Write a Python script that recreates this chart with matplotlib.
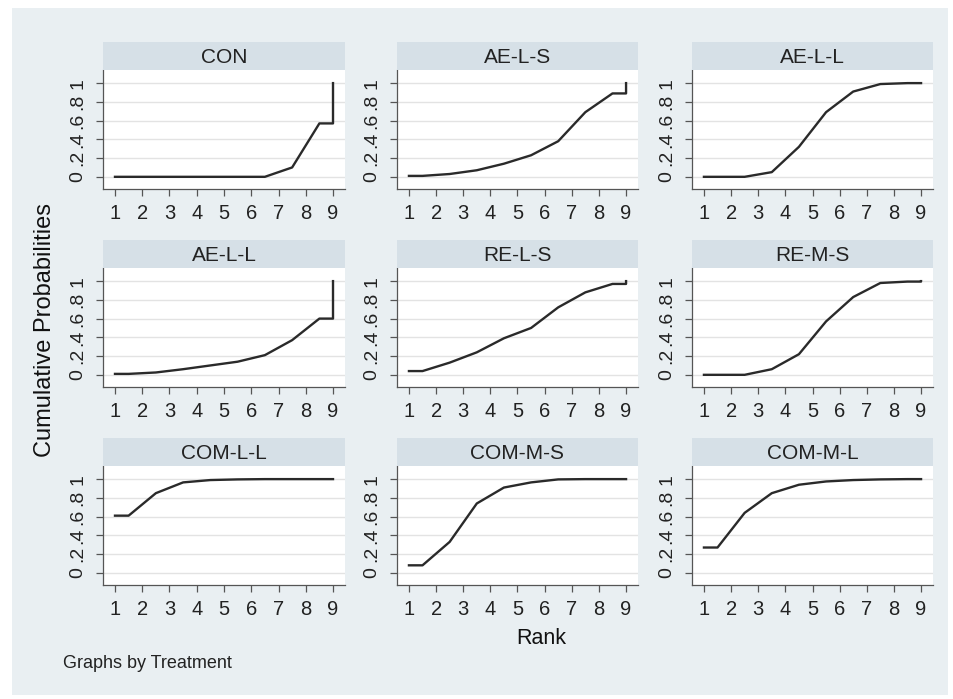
import numpy as np
import matplotlib
matplotlib.use("Agg")
import matplotlib.pyplot as plt
from matplotlib.patches import Rectangle

plt.rcParams['font.family'] = ['Liberation Sans', 'DejaVu Sans']

treatments = ["CON", "AE-L-S", "AE-L-L",
              "AE-L-L", "RE-L-S", "RE-M-S",
              "COM-L-L", "COM-M-S", "COM-M-L"]
ranks = np.arange(1, 10)
cum_con   = [0, 0, 0, 0, 0, 0, 0.10, 0.57, 1]
cum_aels  = [0.01, 0.03, 0.07, 0.14, 0.23, 0.38, 0.69, 0.89, 1]
cum_aell1 = [0, 0, 0.05, 0.32, 0.69, 0.91, 0.99, 1.0, 1]
cum_aell2 = [0.01, 0.025, 0.06, 0.10, 0.14, 0.21, 0.37, 0.60, 1]
cum_rels  = [0.04, 0.13, 0.24, 0.39, 0.50, 0.72, 0.88, 0.97, 1]
cum_rems  = [0, 0, 0.06, 0.22, 0.57, 0.83, 0.98, 0.995, 1]
cum_comll = [0.61, 0.85, 0.965, 0.99, 0.997, 1, 1, 1, 1]
cum_comms = [0.08, 0.33, 0.74, 0.91, 0.965, 0.997, 1, 1, 1]
cum_comml = [0.27, 0.64, 0.85, 0.94, 0.975, 0.99, 0.997, 1, 1]
series = [cum_con, cum_aels, cum_aell1, cum_aell2, cum_rels, cum_rems,
          cum_comll, cum_comms, cum_comml]
yticks = [0, 0.2, 0.4, 0.6, 0.8, 1]
ytick_labels = ["0", ".2", ".4", ".6", ".8", "1"]

W, H = 954, 699
fig = plt.figure(figsize=(W / 100, H / 100), dpi=100, facecolor="white")

BG = "#e9eff2"
STRIP = "#d6e0e7"
fig.patches.append(Rectangle((12 / W, 4 / H), (948 - 12) / W, (691 - 4) / H,
                             transform=fig.transFigure, facecolor=BG,
                             edgecolor="none", zorder=-10))

col_x = [(103, 345), (397, 638), (692, 933)]
row_y = [(70, 189), (268, 387), (466, 585)]
strip_h = 28

for i, (name, vals) in enumerate(zip(treatments, series)):
    r, c = divmod(i, 3)
    x0, x1 = col_x[c]
    y0, y1 = row_y[r]
    ax = fig.add_axes([x0 / W, 1 - y1 / H, (x1 - x0) / W, (y1 - y0) / H])
    ax.set_facecolor("white")
    vals = np.asarray(vals, dtype=float)
    xs = np.concatenate([[ranks[0]], ranks[:-1] + 0.5, [ranks[-1], ranks[-1]]])
    ys = np.concatenate([[vals[0]], vals[:-1], [vals[-2], vals[-1]]])
    ax.plot(xs, ys, color="#2a2a2a", lw=1.7, solid_joinstyle="round", zorder=3)
    ax.set_xlim(0.56, 9.44)
    ax.set_ylim(-0.13, 1.14)
    ax.set_xticks(ranks)
    ax.set_xticklabels([str(k) for k in ranks])
    ax.set_yticks(yticks)
    ax.set_yticklabels(ytick_labels)
    ax.grid(axis="y", color="#e3e3e3", lw=1.0, zorder=0)
    for s in ["top", "right"]:
        ax.spines[s].set_visible(False)
    for s in ["left", "bottom"]:
        ax.spines[s].set_color("#555555")
        ax.spines[s].set_linewidth(0.9)
    ax.tick_params(axis="x", length=5, width=0.9, color="#555555",
                   labelsize=14.5, pad=6, labelcolor="#222222")
    ax.tick_params(axis="y", length=5, width=0.9, color="#555555",
                   labelsize=14, pad=7, labelrotation=90, labelcolor="#222222")
    for lab in ax.get_yticklabels():
        lab.set_va("center")
    # strip
    sax = fig.add_axes([x0 / W, 1 - y0 / H, (x1 - x0) / W, strip_h / H])
    sax.set_facecolor(STRIP)
    sax.set_xticks([]); sax.set_yticks([])
    for s in sax.spines.values():
        s.set_visible(False)
    sax.text(0.5, 0.45, name, ha="center", va="center", fontsize=15,
             color="#222222", transform=sax.transAxes)

fig.text(45 / W, 1 - 330 / H, "Cumulative Probabilities", rotation=90,
         ha="center", va="center", fontsize=17, color="#111111")
fig.text(541 / W, 1 - 638 / H, "Rank", ha="center", va="center",
         fontsize=15.5, color="#111111")
fig.text(63 / W, 1 - 664 / H, "Graphs by Treatment", ha="left", va="center",
         fontsize=13, color="#222222")

fig.savefig("out.png", dpi=100, facecolor="white")
